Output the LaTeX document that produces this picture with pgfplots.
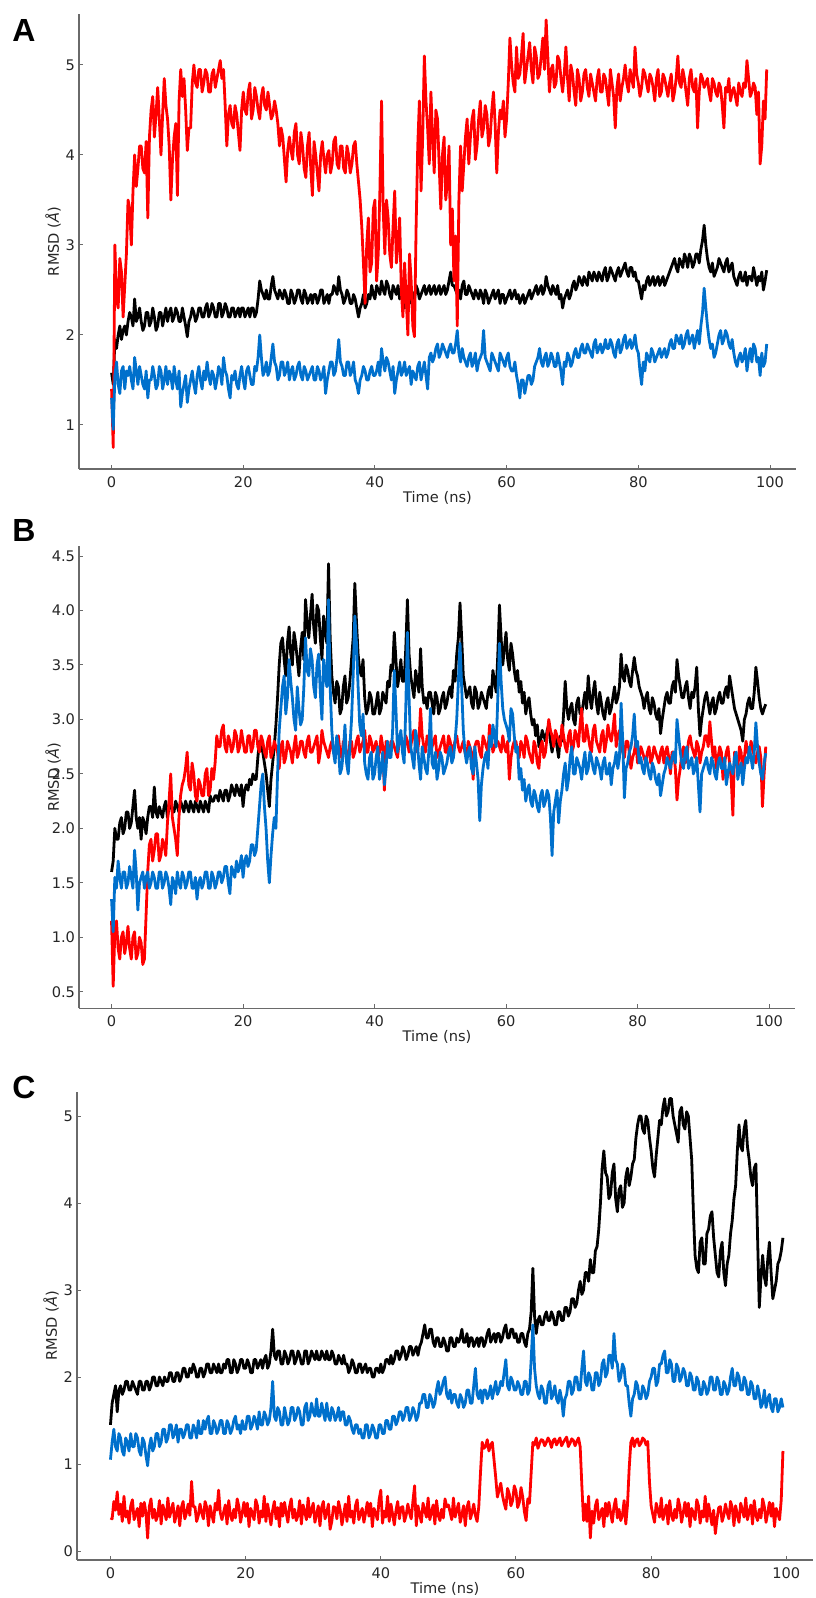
\documentclass[border=0pt]{standalone}
\usepackage{fontspec}
\setmainfont{DejaVu Sans}
\newfontfamily\letterfont{Liberation Sans}
\usepackage{pgfplots}
\usepackage{pgfplotstable}
\pgfplotsset{compat=1.18}

\definecolor{rmsdred}{HTML}{FF0000}
\definecolor{rmsdblue}{HTML}{0070CC}
\definecolor{axisgray}{HTML}{6A6A6A}
\definecolor{textgray}{HTML}{262626}

% panel A: time (ns), black, red, blue
\pgfplotstableread{
t k r b
0 1.58 1.40 1.30
0.25 1.45 0.75 0.95
0.5 1.95 3.00 1.55
0.75 1.85 2.40 1.70
1.0 2.00 2.30 1.45
1.25 2.10 2.85 1.35
1.5 1.95 2.70 1.60
1.75 2.05 2.20 1.65
2.0 2.10 2.55 1.40
2.25 2.00 2.90 1.60
2.5 2.15 3.50 1.55
2.75 2.25 3.40 1.65
3.0 2.20 3.00 1.50
3.25 2.10 3.60 1.40
3.5 2.40 4.00 1.75
3.75 2.15 3.65 1.60
4.0 2.20 3.85 1.45
4.25 2.30 4.10 1.65
4.5 2.15 4.10 1.55
4.75 2.05 3.85 1.45
5.0 2.10 3.80 1.40
5.25 2.25 4.15 1.60
5.5 2.25 3.30 1.30
5.75 2.10 4.20 1.50
6.0 2.15 4.50 1.50
6.25 2.30 4.65 1.65
6.5 2.20 4.20 1.55
6.75 2.05 4.45 1.40
7.0 2.10 4.75 1.45
7.25 2.25 4.40 1.65
7.5 2.25 4.00 1.60
7.75 2.10 4.45 1.40
8.0 2.20 4.85 1.50
8.25 2.30 4.55 1.65
8.5 2.15 4.40 1.45
8.75 2.25 4.10 1.60
9.0 2.30 3.50 1.55
9.25 2.15 3.95 1.40
9.5 2.20 4.20 1.65
9.75 2.30 4.35 1.50
10.0 2.25 3.55 1.40
10.25 2.15 4.60 1.60
10.5 2.15 4.95 1.20
10.75 2.30 4.65 1.35
11.0 2.20 4.85 1.45
11.25 2.10 4.50 1.55
11.5 1.98 4.05 1.25
11.75 2.15 4.30 1.40
12.0 2.20 4.30 1.50
12.25 2.30 4.80 1.60
12.5 2.25 5.00 1.45
12.75 2.15 4.80 1.35
13.0 2.20 4.75 1.55
13.25 2.30 4.95 1.65
13.5 2.30 4.95 1.50
13.75 2.20 4.70 1.40
14.0 2.20 4.80 1.60
14.25 2.30 4.95 1.50
14.5 2.35 4.90 1.70
14.75 2.20 4.70 1.55
15.0 2.25 4.70 1.45
15.25 2.35 4.90 1.60
15.5 2.30 4.95 1.55
15.75 2.20 4.75 1.40
16.0 2.20 4.85 1.50
16.25 2.35 4.95 1.65
16.5 2.35 5.05 1.60
16.75 2.20 4.85 1.45
17.0 2.25 4.95 1.75
17.25 2.35 4.55 1.60
17.5 2.30 4.10 1.55
17.75 2.20 4.45 1.40
18.0 2.20 4.55 1.30
18.25 2.30 4.35 1.55
18.5 2.30 4.30 1.50
18.75 2.20 4.55 1.60
19.0 2.25 4.45 1.45
19.25 2.30 4.25 1.40
19.5 2.20 4.05 1.55
19.75 2.30 4.50 1.65
20.0 2.30 4.70 1.50
20.25 2.20 4.50 1.40
20.5 2.25 4.45 1.60
20.75 2.30 4.70 1.65
21.0 2.20 4.80 1.55
21.25 2.30 4.40 1.45
21.5 2.30 4.50 1.45
21.75 2.20 4.75 1.65
22.0 2.25 4.65 1.60
22.25 2.40 4.50 1.75
22.5 2.60 4.40 2.00
22.75 2.50 4.65 1.75
23.0 2.45 4.75 1.55
23.25 2.40 4.55 1.60
23.5 2.50 4.50 1.70
23.75 2.40 4.70 1.55
24.0 2.40 4.55 1.60
24.25 2.55 4.40 1.75
24.5 2.65 4.45 1.90
24.75 2.50 4.60 1.70
25.0 2.45 4.50 1.65
25.25 2.40 4.35 1.50
25.5 2.50 4.10 1.55
25.75 2.45 4.30 1.70
26.0 2.40 4.20 1.70
26.25 2.50 3.95 1.55
26.5 2.45 3.70 1.60
26.75 2.35 4.05 1.70
27.0 2.35 4.20 1.50
27.25 2.50 4.05 1.60
27.5 2.45 3.95 1.65
27.75 2.35 4.25 1.50
28.0 2.40 4.35 1.55
28.25 2.50 4.00 1.65
28.5 2.50 3.90 1.70
28.75 2.40 4.25 1.55
29.0 2.35 4.10 1.50
29.25 2.50 3.85 1.65
29.5 2.45 3.75 1.60
29.75 2.35 4.10 1.50
30.0 2.40 4.25 1.55
30.25 2.45 3.85 1.60
30.5 2.35 3.55 1.65
30.75 2.45 4.15 1.50
31.0 2.45 4.00 1.50
31.25 2.35 3.80 1.65
31.5 2.40 3.60 1.60
31.75 2.50 4.00 1.50
32.0 2.50 4.15 1.55
32.25 2.35 3.95 1.65
32.5 2.40 3.80 1.35
32.75 2.45 4.00 1.50
33.0 2.35 4.05 1.60
33.25 2.45 3.80 1.70
33.5 2.45 3.90 1.70
33.75 2.55 4.15 1.55
34.0 2.50 4.20 1.60
34.25 2.45 3.90 1.75
34.5 2.65 3.85 1.95
34.75 2.50 4.10 1.70
35.0 2.45 4.10 1.65
35.25 2.35 3.85 1.55
35.5 2.40 3.80 1.55
35.75 2.50 4.10 1.70
36.0 2.45 4.00 1.70
36.25 2.35 3.80 1.55
36.5 2.35 3.90 1.60
36.75 2.45 4.10 1.70
37.0 2.40 4.15 1.50
37.25 2.30 3.90 1.45
37.5 2.20 3.70 1.35
37.75 2.30 3.50 1.50
38.0 2.35 3.20 1.55
38.25 2.45 2.80 1.65
38.5 2.30 2.35 1.60
38.75 2.35 3.00 1.50
39.0 2.45 3.30 1.50
39.25 2.40 2.70 1.60
39.5 2.55 2.80 1.65
39.75 2.45 3.40 1.55
40.0 2.40 3.50 1.55
40.25 2.55 2.60 1.60
40.5 2.50 2.90 1.70
40.75 2.45 3.60 1.55
41.0 2.60 4.60 1.85
41.25 2.50 3.40 1.70
41.5 2.45 2.90 1.60
41.75 2.60 3.50 1.75
42.0 2.55 3.30 1.70
42.25 2.45 2.90 1.60
42.5 2.40 2.75 1.50
42.75 2.55 3.20 1.65
43.0 2.50 3.60 1.35
43.25 2.45 2.80 1.50
43.5 2.55 3.00 1.60
43.75 2.40 3.30 1.70
44.0 2.45 2.50 1.55
44.25 2.55 2.20 1.60
44.5 2.30 2.80 1.70
44.75 2.45 2.40 1.55
45.0 2.40 2.00 1.60
45.25 2.35 2.90 1.65
45.5 2.50 2.60 1.45
45.75 2.45 2.10 1.60
46.0 2.40 1.98 1.55
46.25 2.55 3.20 1.50
46.5 2.50 4.10 1.65
46.75 2.40 4.60 1.70
47.0 2.45 3.60 1.50
47.25 2.50 4.20 1.60
47.5 2.55 5.10 1.70
47.75 2.45 4.60 1.55
48.0 2.50 4.30 1.40
48.25 2.55 3.90 1.75
48.5 2.45 4.70 1.80
48.75 2.50 4.20 1.70
49.0 2.55 3.80 1.75
49.25 2.45 4.50 1.85
49.5 2.50 4.40 1.90
49.75 2.55 3.90 1.75
50.0 2.45 3.40 1.80
50.25 2.50 4.00 1.90
50.5 2.55 4.20 1.85
50.75 2.45 3.50 1.80
51.0 2.50 3.70 1.75
51.25 2.60 4.10 1.85
51.5 2.70 3.00 1.90
51.75 2.55 3.40 1.80
52.0 2.55 2.60 1.80
52.25 2.50 3.10 1.90
52.5 2.45 2.10 2.05
52.75 2.50 3.50 1.80
53.0 2.40 4.10 1.70
53.25 2.55 3.60 1.85
53.5 2.60 3.90 1.75
53.75 2.45 4.20 1.70
54.0 2.45 4.40 1.65
54.25 2.55 3.90 1.75
54.5 2.50 4.20 1.80
54.75 2.45 4.40 1.65
55.0 2.40 4.50 1.70
55.25 2.50 3.95 1.80
55.5 2.45 4.10 1.60
55.75 2.40 4.40 1.70
56.0 2.50 4.60 1.75
56.25 2.45 4.20 1.80
56.5 2.35 4.30 2.05
56.75 2.50 4.55 1.75
57.0 2.45 4.45 1.70
57.25 2.35 4.10 1.65
57.5 2.40 4.20 1.60
57.75 2.45 4.50 1.80
58.0 2.50 4.70 1.75
58.25 2.40 4.35 1.70
58.5 2.45 3.80 1.65
58.75 2.50 4.25 1.60
59.0 2.35 4.50 1.80
59.25 2.45 4.40 1.75
59.5 2.45 4.60 1.70
59.75 2.35 4.20 1.65
60.0 2.40 4.40 1.75
60.25 2.45 4.80 1.80
60.5 2.50 5.30 1.65
60.75 2.40 5.00 1.60
61.0 2.45 4.80 1.60
61.25 2.50 4.70 1.70
61.5 2.40 5.20 1.55
61.75 2.45 4.85 1.45
62.0 2.35 4.90 1.30
62.25 2.40 5.10 1.50
62.5 2.45 5.35 1.50
62.75 2.35 4.80 1.35
63.0 2.40 4.95 1.45
63.25 2.45 5.10 1.55
63.5 2.50 5.25 1.55
63.75 2.40 4.95 1.45
64.0 2.45 4.80 1.50
64.25 2.50 5.20 1.65
64.5 2.55 5.10 1.70
64.75 2.45 4.85 1.75
65.0 2.50 4.90 1.85
65.25 2.55 5.10 1.70
65.5 2.45 5.30 1.65
65.75 2.50 4.95 1.75
66.0 2.65 5.50 1.80
66.25 2.55 5.10 1.65
66.5 2.50 4.70 1.70
66.75 2.45 4.95 1.80
67.0 2.55 5.00 1.75
67.25 2.50 4.75 1.65
67.5 2.45 4.80 1.65
67.75 2.55 5.10 1.80
68.0 2.40 5.05 1.70
68.25 2.45 4.85 1.60
68.5 2.30 4.70 1.45
68.75 2.40 4.90 1.70
69.0 2.45 5.20 1.65
69.25 2.50 4.85 1.80
69.5 2.40 4.60 1.75
69.75 2.45 5.00 1.65
70.0 2.55 4.90 1.70
70.25 2.60 4.70 1.80
70.5 2.50 4.55 1.85
70.75 2.55 4.95 1.75
71.0 2.65 4.85 1.75
71.25 2.60 4.60 1.85
71.5 2.55 4.70 1.90
71.75 2.65 4.90 1.80
72.0 2.60 4.95 1.80
72.25 2.55 4.75 1.90
72.5 2.70 4.65 1.85
72.75 2.65 4.90 1.80
73.0 2.60 4.80 1.75
73.25 2.70 4.70 1.90
73.5 2.65 4.60 1.95
73.75 2.60 4.85 1.80
74.0 2.70 4.95 1.85
74.25 2.65 4.70 1.90
74.5 2.60 4.70 1.80
74.75 2.70 4.90 1.85
75.0 2.75 4.85 1.95
75.25 2.60 4.70 1.85
75.5 2.65 4.55 1.85
75.75 2.75 4.95 1.95
76.0 2.70 4.80 1.90
76.25 2.65 4.65 1.80
76.5 2.60 4.30 1.75
76.75 2.70 4.75 1.90
77.0 2.75 4.90 1.95
77.25 2.65 4.60 1.80
77.5 2.70 4.75 1.85
77.75 2.75 4.85 1.95
78.0 2.80 5.00 2.00
78.25 2.70 4.80 1.85
78.5 2.65 4.70 1.90
78.75 2.75 4.95 1.95
79.0 2.75 4.85 1.85
79.25 2.65 4.75 1.90
79.5 2.70 5.20 2.00
79.75 2.60 4.90 1.85
80.0 2.60 4.80 1.80
80.25 2.50 4.65 1.60
80.5 2.40 4.75 1.45
80.75 2.55 4.95 1.70
81.0 2.50 4.90 1.60
81.25 2.60 4.80 1.80
81.5 2.65 4.70 1.75
81.75 2.55 4.90 1.70
82.0 2.60 4.85 1.85
82.25 2.65 4.75 1.80
82.5 2.55 4.60 1.70
82.75 2.60 4.85 1.75
83.0 2.65 4.95 1.80
83.25 2.55 4.65 1.85
83.5 2.60 4.70 1.75
83.75 2.65 4.90 1.80
84.0 2.55 4.85 1.85
84.25 2.60 4.75 1.75
84.5 2.65 4.65 1.80
84.75 2.70 4.80 1.90
85.0 2.75 4.90 1.95
85.25 2.80 4.60 1.85
85.5 2.85 4.70 1.85
85.75 2.75 4.85 2.00
86.0 2.70 5.10 1.95
86.25 2.85 4.80 1.90
86.5 2.80 4.75 2.00
86.75 2.75 4.95 1.85
87.0 2.90 4.85 1.90
87.25 2.85 4.70 2.00
87.5 2.75 4.55 2.05
87.75 2.90 4.85 1.90
88.0 2.85 4.95 1.95
88.25 2.75 4.75 2.00
88.5 2.80 4.70 1.85
88.75 2.90 4.85 1.95
89.0 2.90 4.30 2.05
89.25 2.80 4.70 1.90
89.5 2.95 4.90 2.10
89.75 3.05 4.85 2.25
90.0 3.22 4.75 2.52
90.25 3.00 4.80 2.30
90.5 2.85 4.85 2.10
90.75 2.75 4.70 1.95
91.0 2.70 4.60 1.85
91.25 2.80 4.85 1.90
91.5 2.65 4.80 1.75
91.75 2.70 4.70 1.80
92.0 2.75 4.65 1.90
92.25 2.85 4.80 2.00
92.5 2.80 4.75 2.05
92.75 2.75 4.55 1.90
93.0 2.70 4.30 1.95
93.25 2.80 4.75 2.05
93.5 2.85 4.70 2.00
93.75 2.70 4.85 1.90
94.0 2.75 4.60 1.85
94.25 2.80 4.70 1.95
94.5 2.65 4.75 1.80
94.75 2.60 4.65 1.70
95.0 2.55 4.55 1.65
95.25 2.65 4.80 1.75
95.5 2.70 4.70 1.80
95.75 2.60 4.65 1.70
96.0 2.60 4.80 1.75
96.25 2.70 4.75 1.85
96.5 2.55 5.05 1.60
96.75 2.65 4.85 1.75
97.0 2.65 4.65 1.85
97.25 2.60 4.70 1.70
97.5 2.75 4.80 1.90
97.75 2.65 4.75 1.85
98.0 2.55 4.45 1.70
98.25 2.65 4.70 1.75
98.5 2.60 3.90 1.55
98.75 2.70 4.10 1.80
99.0 2.50 4.60 1.65
99.25 2.60 4.40 1.70
99.5 2.72 4.95 1.90
}\tabA

% panel B
\pgfplotstableread{
t k r b
0 1.60 1.15 1.35
0.25 1.70 0.55 1.05
0.5 2.00 1.05 1.55
0.75 1.90 1.15 1.45
1.0 1.90 0.90 1.70
1.25 2.05 0.80 1.55
1.5 2.10 1.00 1.45
1.75 1.95 1.05 1.60
2.0 2.00 0.85 1.60
2.25 2.15 0.95 1.45
2.5 2.15 1.10 1.50
2.75 2.00 0.90 1.65
3.0 2.05 0.80 1.55
3.25 2.20 1.00 1.45
3.5 2.35 1.05 1.80
3.75 2.10 0.80 1.60
4.0 2.00 0.85 1.25
4.25 2.10 1.00 1.50
4.5 1.90 0.95 1.55
4.75 2.10 0.75 1.60
5.0 2.05 0.80 1.45
5.25 1.95 1.20 1.55
5.5 2.10 1.60 1.60
5.75 2.20 1.85 1.45
6.0 2.20 1.90 1.50
6.25 2.10 1.70 1.60
6.5 2.38 1.80 1.55
6.75 2.15 1.95 1.45
7.0 2.10 1.95 1.45
7.25 2.20 1.70 1.60
7.5 2.15 1.75 1.60
7.75 2.10 1.90 1.45
8.0 2.20 1.85 1.50
8.25 2.25 1.75 1.60
8.5 2.10 2.05 1.55
8.75 2.20 2.25 1.45
9.0 2.25 2.50 1.30
9.25 2.15 2.10 1.55
9.5 2.15 2.00 1.50
9.75 2.25 1.90 1.40
10.0 2.20 1.75 1.60
10.25 2.15 2.10 1.50
10.5 2.25 2.30 1.45
10.75 2.20 2.40 1.60
11.0 2.15 2.45 1.55
11.25 2.25 2.55 1.45
11.5 2.20 2.70 1.50
11.75 2.15 2.40 1.60
12.0 2.25 2.35 1.60
12.25 2.20 2.60 1.45
12.5 2.15 2.50 1.45
12.75 2.25 2.30 1.55
13.0 2.20 2.25 1.35
13.25 2.15 2.45 1.50
13.5 2.25 2.40 1.55
13.75 2.20 2.30 1.45
14.0 2.15 2.30 1.50
14.25 2.25 2.50 1.60
14.5 2.20 2.55 1.60
14.75 2.15 2.30 1.45
15.0 2.30 2.35 1.45
15.25 2.25 2.55 1.60
15.5 2.25 2.45 1.55
15.75 2.30 2.60 1.45
16.0 2.30 2.85 1.50
16.25 2.25 2.75 1.60
16.5 2.35 2.75 1.60
16.75 2.30 2.90 1.50
17.0 2.25 2.95 1.55
17.25 2.35 2.75 1.65
17.5 2.35 2.70 1.65
17.75 2.25 2.85 1.50
18.0 2.30 2.80 1.40
18.25 2.40 2.70 1.65
18.5 2.35 2.75 1.60
18.75 2.30 2.90 1.55
19.0 2.40 2.85 1.70
19.25 2.35 2.70 1.60
19.5 2.30 2.75 1.65
19.75 2.40 2.90 1.75
20.0 2.20 2.80 1.55
20.25 2.35 2.70 1.70
20.5 2.40 2.70 1.75
20.75 2.35 2.85 1.65
21.0 2.45 2.85 1.70
21.25 2.40 2.70 1.85
21.5 2.50 2.75 1.85
21.75 2.45 2.90 1.75
22.0 2.45 2.90 1.80
22.25 2.65 2.75 2.00
22.5 2.80 2.70 2.20
22.75 2.75 2.85 2.40
23.0 2.70 2.80 2.50
23.25 2.60 2.70 2.20
23.5 2.50 2.65 2.00
23.75 2.35 2.80 1.70
24.0 2.20 2.85 1.50
24.25 2.45 2.65 1.75
24.5 2.60 2.70 1.95
24.75 2.75 2.80 2.10
25.0 2.95 2.75 2.00
25.25 3.20 2.70 2.50
25.5 3.50 2.55 2.90
25.75 3.70 2.75 3.10
26.0 3.75 2.80 3.30
26.25 3.55 2.60 3.40
26.5 3.40 2.65 3.05
26.75 3.70 2.80 3.20
27.0 3.85 2.75 3.55
27.25 3.60 2.70 3.35
27.5 3.50 2.60 3.20
27.75 3.80 2.75 3.00
28.0 3.70 2.85 2.90
28.25 3.55 2.65 3.30
28.5 3.40 2.70 3.10
28.75 3.65 2.80 2.95
29.0 3.80 2.80 3.00
29.25 3.55 2.70 3.30
29.5 4.10 2.65 3.75
29.75 3.90 2.80 3.45
30.0 3.75 2.85 3.40
30.25 3.95 2.70 3.65
30.5 4.15 2.70 3.55
30.75 3.85 2.75 3.30
31.0 3.70 2.80 3.20
31.25 4.05 2.85 3.50
31.5 4.00 2.60 3.60
31.75 3.75 2.70 3.25
32.0 3.55 2.90 3.00
32.25 3.95 2.80 3.55
32.5 3.80 2.75 3.40
32.75 3.70 2.70 3.30
33.0 4.43 2.65 4.10
33.25 3.75 2.75 3.30
33.5 3.40 2.80 2.90
33.75 3.25 2.70 2.70
34.0 3.15 2.70 2.60
34.25 3.35 2.80 2.85
34.5 3.30 2.85 2.75
34.75 3.05 2.70 2.50
35.0 3.10 2.65 2.55
35.25 3.30 2.80 2.70
35.5 3.40 2.75 2.95
35.75 3.15 2.70 2.60
36.0 3.20 2.60 2.50
36.25 3.35 2.80 2.75
36.5 3.55 2.80 3.00
36.75 3.75 2.65 3.40
37.0 4.25 2.70 3.95
37.25 3.90 2.80 3.70
37.5 3.60 2.85 3.30
37.75 3.45 2.70 2.95
38.0 3.40 2.75 2.85
38.25 3.55 2.80 3.05
38.5 3.20 2.90 2.60
38.75 3.05 2.70 2.50
39.0 3.10 2.70 2.45
39.25 3.25 2.85 2.65
39.5 3.20 2.80 2.70
39.75 3.05 2.70 2.45
40.0 3.05 2.75 2.50
40.25 3.15 2.80 2.65
40.5 3.25 2.65 2.75
40.75 3.05 2.70 2.45
41.0 3.10 2.85 2.55
41.25 3.25 2.75 2.70
41.5 3.20 2.35 2.40
41.75 3.15 2.80 2.55
42.0 3.35 2.70 2.80
42.25 3.30 2.65 2.65
42.5 3.50 2.80 2.65
42.75 3.45 2.80 2.90
43.0 3.80 2.75 3.45
43.25 3.55 2.70 3.10
43.5 3.30 2.65 2.70
43.75 3.40 2.80 2.80
44.0 3.55 2.85 2.90
44.25 3.35 2.75 2.70
44.5 3.35 2.70 2.60
44.75 3.65 2.85 3.10
45.0 4.10 2.80 3.80
45.25 3.60 2.70 3.20
45.5 3.40 2.75 2.75
45.75 3.30 2.85 2.65
46.0 3.20 2.90 2.55
46.25 3.45 2.75 2.90
46.5 3.35 2.70 2.80
46.75 3.25 2.80 2.60
47.0 3.65 3.10 2.45
47.25 3.30 2.85 2.75
47.5 3.15 2.75 2.65
47.75 3.20 2.70 2.55
48.0 3.10 2.85 2.50
48.25 3.25 2.80 2.70
48.5 3.25 2.70 3.10
48.75 3.15 2.75 2.60
49.0 3.05 2.80 2.55
49.25 3.25 2.85 2.70
49.5 3.20 2.65 2.45
49.75 3.05 2.70 2.55
50.0 3.10 2.75 2.70
50.25 3.20 2.80 2.65
50.5 3.25 2.85 2.50
50.75 3.10 2.70 2.55
51.0 3.15 2.70 2.60
51.25 3.25 2.85 2.70
51.5 3.30 2.80 2.75
51.75 3.20 2.70 2.60
52.0 3.45 2.75 2.65
52.25 3.35 2.80 2.80
52.5 3.60 2.85 3.00
52.75 3.75 2.75 3.35
53.0 4.07 2.70 3.70
53.25 3.75 2.75 3.30
53.5 3.40 2.80 2.90
53.75 3.30 2.70 2.70
54.0 3.20 2.65 2.60
54.25 3.25 2.80 2.70
54.5 3.30 2.75 2.75
54.75 3.15 2.70 2.55
55.0 3.10 2.45 2.50
55.25 3.30 2.75 2.75
55.5 3.25 2.80 2.60
55.75 3.10 2.80 2.45
56.0 3.15 2.70 2.07
56.25 3.25 2.65 2.40
56.5 3.20 2.85 2.55
56.75 3.15 2.80 2.65
57.0 3.10 2.75 2.70
57.25 3.25 2.70 2.55
57.5 3.30 2.95 2.85
57.75 3.20 2.85 2.75
58.0 3.45 2.70 2.95
58.25 3.35 2.75 2.85
58.5 3.25 2.80 2.75
58.75 3.60 2.80 3.20
59.0 4.05 2.75 3.70
59.25 3.75 2.70 3.35
59.5 3.50 2.85 3.10
59.75 3.65 2.75 3.00
60.0 3.80 2.70 2.95
60.25 3.55 2.80 2.90
60.5 3.45 2.45 2.80
60.75 3.70 2.65 3.10
61.0 3.60 2.75 3.05
61.25 3.45 2.80 2.85
61.5 3.35 2.80 2.70
61.75 3.45 2.70 2.75
62.0 3.25 2.65 2.45
62.25 3.35 2.80 2.55
62.5 3.15 2.75 2.35
62.75 3.25 2.65 2.45
63.0 3.05 2.85 2.25
63.25 3.15 2.80 2.35
63.5 3.20 2.70 2.40
63.75 3.05 2.65 2.25
64.0 2.95 2.60 2.20
64.25 3.00 2.80 2.35
64.5 2.85 2.75 2.30
64.75 2.95 2.60 2.20
65.0 2.75 2.55 2.15
65.25 2.80 2.75 2.30
65.5 2.90 2.80 2.35
65.75 2.85 2.65 2.20
66.0 2.80 2.70 2.25
66.25 2.90 2.85 2.35
66.5 2.95 3.00 2.30
66.75 2.80 2.90 2.10
67.0 2.70 2.85 1.75
67.25 2.80 2.75 2.15
67.5 2.85 2.90 2.25
67.75 2.75 2.85 2.35
68.0 2.65 2.80 2.05
68.25 2.85 2.75 2.25
68.5 2.80 2.95 2.35
68.75 3.05 2.85 2.50
69.0 3.35 2.75 2.60
69.25 3.10 2.70 2.35
69.5 3.00 2.85 2.45
69.75 3.10 2.90 2.65
70.0 3.15 2.70 2.75
70.25 3.00 2.75 2.50
70.5 2.95 2.90 2.50
70.75 3.15 2.85 2.65
71.0 3.20 2.75 2.60
71.25 3.05 2.95 2.55
71.5 3.05 3.10 2.45
71.75 3.15 2.80 2.60
72.0 3.25 2.80 2.70
72.25 3.10 2.95 2.50
72.5 3.40 2.85 2.55
72.75 3.20 2.75 2.70
73.0 3.10 2.70 2.65
73.25 3.25 2.90 2.55
73.5 3.35 2.95 2.50
73.75 3.15 2.80 2.65
74.0 3.05 2.75 2.60
74.25 3.25 2.70 2.55
74.5 3.15 2.85 2.45
74.75 3.05 2.90 2.60
75.0 3.00 2.70 2.65
75.25 3.15 2.80 2.50
75.5 3.20 2.95 2.50
75.75 3.05 2.85 2.60
76.0 3.10 2.80 2.40
76.25 3.20 2.90 2.55
76.5 3.30 3.05 2.60
76.75 3.15 2.75 2.70
77.0 3.20 2.85 2.55
77.25 3.30 2.90 2.65
77.5 3.60 2.75 3.15
77.75 3.40 2.70 2.80
78.0 3.35 2.65 2.28
78.25 3.50 2.80 2.55
78.5 3.45 2.80 2.60
78.75 3.35 2.70 2.70
79.0 3.30 2.55 2.75
79.25 3.45 2.65 2.85
79.5 3.57 2.70 3.05
79.75 3.45 2.80 2.75
80.0 3.40 2.60 2.80
80.25 3.30 2.65 2.60
80.5 3.25 2.75 2.65
80.75 3.20 2.70 2.55
81.0 3.10 2.65 2.50
81.25 3.20 2.60 2.65
81.5 3.25 2.70 2.60
81.75 3.10 2.75 2.50
82.0 3.05 2.60 2.45
82.25 3.20 2.65 2.60
82.5 3.15 2.75 2.55
82.75 3.05 2.70 2.45
83.0 3.00 2.65 2.40
83.25 3.10 2.60 2.50
83.5 2.87 2.70 2.30
83.75 3.00 2.75 2.40
84.0 3.10 2.60 2.50
84.25 3.20 2.70 2.55
84.5 3.25 2.75 2.65
84.75 3.15 2.65 2.60
85.0 3.15 2.50 2.55
85.25 3.30 2.70 2.65
85.5 3.35 2.70 2.70
85.75 3.25 2.55 2.60
86.0 3.55 2.26 3.00
86.25 3.40 2.45 2.85
86.5 3.30 2.55 2.70
86.75 3.20 2.70 2.60
87.0 3.20 2.75 2.55
87.25 3.30 2.60 2.70
87.5 3.35 2.65 2.75
87.75 3.20 2.80 2.55
88.0 3.10 2.85 2.60
88.25 3.25 2.75 2.65
88.5 3.20 2.70 2.50
88.75 3.30 2.65 2.55
89.0 3.48 2.80 2.65
89.25 3.10 2.75 2.40
89.5 2.85 2.60 2.15
89.75 3.00 2.70 2.50
90.0 3.10 2.75 2.55
90.25 3.20 2.85 2.60
90.5 3.25 2.85 2.65
90.75 3.15 2.75 2.55
91.0 3.05 2.98 2.50
91.25 3.15 2.80 2.65
91.5 3.20 2.65 2.60
91.75 3.05 2.75 2.50
92.0 3.10 2.55 2.45
92.25 3.20 2.65 2.60
92.5 3.25 2.75 2.65
92.75 3.15 2.70 2.55
93.0 3.15 2.45 2.55
93.25 3.25 2.60 2.65
93.5 3.30 2.70 2.40
93.75 3.20 2.75 2.50
94.0 3.40 2.60 2.60
94.25 3.30 2.45 2.55
94.5 3.20 2.12 2.50
94.75 3.10 2.70 2.65
95.0 3.05 2.65 2.70
95.25 3.00 2.55 2.45
95.5 2.95 2.75 2.55
95.75 2.90 2.70 2.60
96.0 2.80 2.50 2.40
96.25 3.00 2.65 2.55
96.5 3.05 2.80 2.65
96.75 3.15 2.70 2.60
97.0 3.20 2.65 2.75
97.25 3.10 2.80 2.65
97.5 3.10 2.75 2.55
97.75 3.25 2.65 2.70
98.0 3.48 2.60 2.97
98.25 3.35 2.70 2.75
98.5 3.20 2.75 2.60
98.75 3.10 2.65 2.50
99.0 3.05 2.20 2.45
99.25 3.10 2.50 2.60
99.5 3.14 2.75 2.69
}\tabB

% panel C: black and blue
\pgfplotstableread{
t k b
0 1.45 1.05
0.25 1.70 1.25
0.5 1.80 1.40
0.75 1.90 1.20
1.0 1.60 1.15
1.25 1.85 1.35
1.5 1.90 1.30
1.75 1.80 1.15
2.0 1.85 1.10
2.25 1.95 1.30
2.5 1.95 1.25
2.75 1.85 1.15
3.0 1.85 1.35
3.25 1.95 1.20
3.5 1.90 1.20
3.75 1.85 1.35
4.0 1.80 1.30
4.25 1.95 1.15
4.5 1.95 1.10
4.75 1.85 1.30
5.0 1.85 1.25
5.25 1.95 1.10
5.5 1.95 0.98
5.75 1.85 1.20
6.0 1.90 1.30
6.25 2.00 1.15
6.5 2.00 1.20
6.75 1.90 1.35
7.0 1.90 1.35
7.25 2.00 1.20
7.5 1.95 1.25
7.75 1.90 1.40
8.0 2.00 1.40
8.25 1.95 1.25
8.5 1.95 1.30
8.75 2.05 1.45
9.0 2.05 1.45
9.25 1.95 1.30
9.5 1.95 1.35
9.75 2.05 1.45
10.0 2.05 1.25
10.25 1.95 1.40
10.5 2.00 1.40
10.75 2.10 1.30
11.0 2.10 1.35
11.25 2.00 1.45
11.5 2.00 1.45
11.75 2.10 1.30
12.0 2.05 1.30
12.25 2.15 1.45
12.5 2.10 1.40
12.75 2.00 1.30
13.0 2.00 1.50
13.25 2.10 1.35
13.5 2.10 1.35
13.75 2.00 1.50
14.0 2.05 1.40
14.25 2.15 1.50
14.5 2.15 1.55
14.75 2.05 1.35
15.0 2.05 1.35
15.25 2.15 1.50
15.5 2.10 1.45
15.75 2.05 1.35
16.0 2.15 1.40
16.25 2.05 1.50
16.5 2.05 1.50
16.75 2.15 1.35
17.0 2.10 1.35
17.25 2.20 1.50
17.5 2.20 1.45
17.75 2.05 1.35
18.0 2.05 1.40
18.25 2.20 1.50
18.5 2.15 1.55
18.75 2.05 1.40
19.0 2.10 1.45
19.25 2.20 1.35
19.5 2.20 1.50
19.75 2.10 1.40
20.0 2.10 1.40
20.25 2.20 1.55
20.5 2.15 1.55
20.75 2.05 1.40
21.0 2.05 1.45
21.25 2.20 1.55
21.5 2.20 1.50
21.75 2.10 1.40
22.0 2.15 1.60
22.25 2.20 1.45
22.5 2.10 1.45
22.75 2.20 1.60
23.0 2.25 1.55
23.25 2.10 1.45
23.5 2.15 1.50
23.75 2.30 1.65
24.0 2.55 1.95
24.25 2.25 1.55
24.5 2.20 1.50
24.75 2.30 1.65
25.0 2.30 1.60
25.25 2.15 1.45
25.5 2.15 1.45
25.75 2.30 1.65
26.0 2.25 1.55
26.25 2.15 1.45
26.5 2.20 1.50
26.75 2.30 1.65
27.0 2.30 1.65
27.25 2.15 1.50
27.5 2.20 1.55
27.75 2.30 1.65
28.0 2.25 1.60
28.25 2.15 1.45
28.5 2.15 1.45
28.75 2.30 1.65
29.0 2.30 1.70
29.25 2.15 1.50
29.5 2.20 1.55
29.75 2.30 1.70
30.0 2.25 1.60
30.25 2.20 1.55
30.5 2.30 1.75
30.75 2.20 1.55
31.0 2.20 1.55
31.25 2.30 1.70
31.5 2.25 1.60
31.75 2.20 1.50
32.0 2.30 1.70
32.25 2.20 1.55
32.5 2.20 1.50
32.75 2.30 1.65
33.0 2.25 1.60
33.25 2.15 1.50
33.5 2.15 1.55
33.75 2.25 1.65
34.0 2.20 1.50
34.25 2.15 1.60
34.5 2.25 1.60
34.75 2.15 1.45
35.0 2.15 1.45
35.25 2.05 1.55
35.5 2.10 1.50
35.75 2.20 1.40
36.0 2.15 1.35
36.25 2.05 1.45
36.5 2.05 1.45
36.75 2.15 1.35
37.0 2.15 1.40
37.25 2.05 1.30
37.5 2.10 1.30
37.75 2.15 1.45
38.0 2.05 1.45
38.25 2.10 1.30
38.5 2.10 1.35
38.75 2.00 1.45
39.0 2.00 1.40
39.25 2.10 1.30
39.5 2.10 1.30
39.75 2.05 1.45
40.0 2.15 1.45
40.25 2.05 1.35
40.5 2.10 1.35
40.75 2.20 1.50
41.0 2.20 1.50
41.25 2.15 1.40
41.5 2.25 1.40
41.75 2.15 1.55
42.0 2.20 1.55
42.25 2.30 1.45
42.5 2.30 1.50
42.75 2.20 1.60
43.0 2.25 1.60
43.25 2.35 1.50
43.5 2.30 1.55
43.75 2.20 1.65
44.0 2.25 1.65
44.25 2.35 1.50
44.5 2.35 1.55
44.75 2.25 1.65
45.0 2.30 1.60
45.25 2.35 1.50
45.5 2.25 1.55
45.75 2.35 1.70
46.0 2.40 1.70
46.25 2.50 1.80
46.5 2.60 1.80
46.75 2.45 1.65
47.0 2.45 1.65
47.25 2.55 1.80
47.5 2.55 1.75
47.75 2.40 1.65
48.0 2.35 1.70
48.25 2.45 1.85
48.5 2.45 1.95
48.75 2.35 1.80
49.0 2.35 1.85
49.25 2.45 1.95
49.5 2.40 2.00
49.75 2.30 1.80
50.0 2.30 1.75
50.25 2.45 1.85
50.5 2.45 1.70
50.75 2.35 1.80
51.0 2.35 1.80
51.25 2.45 1.70
51.5 2.40 1.65
51.75 2.45 1.80
52.0 2.55 1.75
52.25 2.40 1.65
52.5 2.40 1.70
52.75 2.50 1.85
53.0 2.35 1.85
53.25 2.45 1.70
53.5 2.45 1.70
53.75 2.35 1.90
54.0 2.40 2.10
54.25 2.45 1.80
54.5 2.35 1.75
54.75 2.45 1.85
55.0 2.45 1.70
55.25 2.35 1.85
55.5 2.40 1.85
55.75 2.50 1.75
56.0 2.55 1.80
56.25 2.40 1.90
56.5 2.45 1.75
56.75 2.50 1.85
57.0 2.40 1.95
57.25 2.50 1.80
57.5 2.50 1.85
57.75 2.40 1.95
58.0 2.45 1.90
58.25 2.55 2.05
58.5 2.60 2.20
58.75 2.45 1.90
59.0 2.45 1.85
59.25 2.55 2.00
59.5 2.55 1.95
59.75 2.45 1.85
60.0 2.50 1.85
60.25 2.40 1.95
60.5 2.40 1.90
60.75 2.50 1.80
61.0 2.50 1.80
61.25 2.40 1.95
61.5 2.35 1.95
61.75 2.50 1.80
62.0 2.55 1.85
62.25 2.75 2.20
62.5 3.25 2.60
62.75 2.70 2.10
63.0 2.50 1.90
63.25 2.65 1.80
63.5 2.70 1.75
63.75 2.60 1.90
64.0 2.60 1.85
64.25 2.70 1.70
64.5 2.75 1.70
64.75 2.65 1.90
65.0 2.65 1.95
65.25 2.75 1.75
65.5 2.70 1.80
65.75 2.60 1.90
66.0 2.60 1.75
66.25 2.75 1.70
66.5 2.75 1.85
66.75 2.65 1.75
67.0 2.65 1.55
67.25 2.80 1.75
67.5 2.80 1.80
67.75 2.70 1.95
68.0 2.75 1.95
68.25 2.90 1.80
68.5 2.90 1.85
68.75 2.80 2.00
69.0 2.85 2.00
69.25 3.00 1.85
69.5 3.10 1.85
69.75 2.95 2.10
70.0 3.00 2.30
70.25 3.20 1.95
70.5 3.20 1.90
70.75 3.10 2.05
71.0 3.35 2.00
71.25 3.20 1.85
71.5 3.20 1.85
71.75 3.45 2.05
72.0 3.50 2.05
72.25 3.70 1.90
72.5 4.00 1.95
72.75 4.40 2.15
73.0 4.60 2.20
73.25 4.35 2.00
73.5 4.30 2.05
73.75 4.05 2.25
74.0 4.10 2.25
74.25 4.35 2.10
74.5 4.45 2.50
74.75 4.05 2.20
75.0 3.90 2.15
75.25 4.15 1.95
75.5 4.20 2.00
75.75 3.95 2.15
76.0 4.00 2.10
76.25 4.30 1.90
76.5 4.40 1.90
76.75 4.20 1.70
77.0 4.30 1.55
77.25 4.45 1.75
77.5 4.50 1.80
77.75 4.75 1.95
78.0 4.90 1.90
78.25 5.00 1.75
78.5 5.00 1.75
78.75 4.85 1.90
79.0 4.80 1.85
79.25 5.00 1.75
79.5 4.95 1.80
79.75 4.75 1.95
80.0 4.60 2.00
80.25 4.40 2.10
80.5 4.30 2.10
80.75 4.55 1.90
81.0 4.75 1.95
81.25 4.95 2.15
81.5 4.90 2.15
81.75 5.10 2.25
82.0 5.20 2.30
82.25 5.00 2.05
82.5 5.05 2.05
82.75 5.20 2.20
83.0 5.20 2.15
83.25 5.00 1.95
83.5 4.90 1.95
83.75 4.80 2.15
84.0 4.70 2.10
84.25 5.05 1.95
84.5 5.10 2.00
84.75 4.90 2.10
85.0 4.85 2.05
85.25 5.05 1.90
85.5 5.00 1.90
85.75 4.75 2.05
86.0 4.50 2.00
86.25 3.90 1.85
86.5 3.40 1.85
86.75 3.25 2.00
87.0 3.20 1.95
87.25 3.55 1.80
87.5 3.60 1.80
87.75 3.30 1.95
88.0 3.30 1.90
88.25 3.65 1.80
88.5 3.70 1.85
88.75 3.85 2.00
89.0 3.90 2.00
89.25 3.60 1.85
89.5 3.40 1.85
89.75 3.20 2.00
90.0 3.15 1.95
90.25 3.45 1.80
90.5 3.55 1.80
90.75 3.20 1.95
91.0 3.05 1.90
91.25 3.30 1.80
91.5 3.40 1.85
91.75 3.65 2.00
92.0 3.80 2.10
92.25 4.05 1.90
92.5 4.20 1.90
92.75 4.60 2.05
93.0 4.90 2.00
93.25 4.65 1.85
93.5 4.60 1.85
93.75 4.85 2.00
94.0 4.95 1.95
94.25 4.65 1.80
94.5 4.50 1.80
94.75 4.30 1.95
95.0 4.20 1.90
95.25 4.40 1.75
95.5 4.45 1.75
95.75 3.60 1.90
96.0 2.80 1.80
96.25 3.15 1.65
96.5 3.40 1.70
96.75 3.15 1.85
97.0 3.05 1.65
97.25 3.35 1.75
97.5 3.55 1.80
97.75 3.20 1.65
98.0 2.90 1.60
98.25 3.00 1.75
98.5 3.10 1.75
98.75 3.30 1.60
99.0 3.35 1.65
99.25 3.45 1.75
99.5 3.60 1.65
}\tabC

% panel C: red
\pgfplotstableread{
t r
0 0.38
0.25 0.37
0.5 0.57
0.75 0.47
1.0 0.68
1.25 0.42
1.5 0.54
1.75 0.34
2.0 0.63
2.25 0.39
2.5 0.46
2.75 0.32
3.0 0.52
3.25 0.59
3.5 0.36
3.75 0.43
4.0 0.49
4.25 0.28
4.5 0.55
4.75 0.40
5.0 0.56
5.25 0.44
5.5 0.15
5.75 0.51
6.0 0.60
6.25 0.38
6.5 0.48
6.75 0.35
7.0 0.41
7.25 0.58
7.5 0.31
7.75 0.53
8.0 0.45
8.25 0.36
8.5 0.61
8.75 0.39
9.0 0.47
9.25 0.55
9.5 0.33
9.75 0.42
10.0 0.52
10.25 0.29
10.5 0.50
10.75 0.57
11.0 0.37
11.25 0.44
11.5 0.54
11.75 0.41
12.0 0.80
12.25 0.51
12.5 0.51
12.75 0.34
13.0 0.41
13.25 0.54
13.5 0.44
13.75 0.37
14.0 0.57
14.25 0.50
14.5 0.29
14.75 0.52
15.0 0.42
15.25 0.33
15.5 0.55
15.75 0.47
16.0 0.70
16.25 0.44
16.5 0.36
16.75 0.45
17.0 0.53
17.25 0.31
17.5 0.58
17.75 0.41
18.0 0.35
18.25 0.48
18.5 0.38
18.75 0.60
19.0 0.51
19.25 0.33
19.5 0.44
19.75 0.56
20.0 0.40
20.25 0.55
20.5 0.28
20.75 0.49
21.0 0.43
21.25 0.36
21.5 0.59
21.75 0.52
22.0 0.32
22.25 0.46
22.5 0.39
22.75 0.63
23.0 0.34
23.25 0.54
23.5 0.42
23.75 0.30
24.0 0.47
24.25 0.57
24.5 0.37
24.75 0.50
25.0 0.28
25.25 0.55
25.5 0.40
25.75 0.56
26.0 0.44
26.25 0.33
26.5 0.51
26.75 0.60
27.0 0.38
27.25 0.48
27.5 0.35
27.75 0.41
28.0 0.58
28.25 0.31
28.5 0.53
28.75 0.45
29.0 0.36
29.25 0.61
29.5 0.39
29.75 0.47
30.0 0.55
30.25 0.33
30.5 0.42
30.75 0.52
31.0 0.29
31.25 0.50
31.5 0.57
31.75 0.37
32.0 0.44
32.25 0.54
32.5 0.25
32.75 0.34
33.0 0.51
33.25 0.50
33.5 0.37
33.75 0.57
34.0 0.47
34.25 0.30
34.5 0.42
34.75 0.54
35.0 0.34
35.25 0.63
35.5 0.39
35.75 0.46
36.0 0.32
36.25 0.52
36.5 0.59
36.75 0.36
37.0 0.43
37.25 0.49
37.5 0.33
37.75 0.44
38.0 0.56
38.25 0.40
38.5 0.55
38.75 0.28
39.0 0.49
39.25 0.43
39.5 0.36
39.75 0.59
40.0 0.70
40.25 0.32
40.5 0.46
40.75 0.39
41.0 0.63
41.25 0.34
41.5 0.54
41.75 0.42
42.0 0.30
42.25 0.47
42.5 0.57
42.75 0.37
43.0 0.50
43.25 0.51
43.5 0.34
43.75 0.41
44.0 0.54
44.25 0.44
44.5 0.37
44.75 0.57
45.0 0.75
45.25 0.29
45.5 0.52
45.75 0.42
46.0 0.33
46.25 0.55
46.5 0.47
46.75 0.39
47.0 0.61
47.25 0.36
47.5 0.45
47.75 0.53
48.0 0.31
48.25 0.58
48.5 0.41
48.75 0.35
49.0 0.48
49.25 0.38
49.5 0.60
49.75 0.51
50.0 0.53
50.25 0.45
50.5 0.36
50.75 0.61
51.0 0.39
51.25 0.47
51.5 0.55
51.75 0.33
52.0 0.42
52.25 0.52
52.5 0.29
52.75 0.50
53.0 0.57
53.25 0.37
53.5 0.44
53.75 0.54
54.0 0.41
54.25 0.34
54.5 0.51
54.75 0.90
55.0 1.25
55.25 1.18
55.5 1.20
55.75 1.28
56.0 1.15
56.25 1.22
56.5 1.25
56.75 1.05
57.0 0.85
57.25 0.62
57.5 0.70
57.75 0.78
58.0 0.64
58.25 0.55
58.5 0.48
58.75 0.72
59.0 0.66
59.25 0.52
59.5 0.58
59.75 0.75
60.0 0.69
60.25 0.50
60.5 0.56
60.75 0.73
61.0 0.62
61.25 0.45
61.5 0.35
61.75 0.60
62.0 0.55
62.25 0.90
62.5 1.25
62.75 1.22
63.0 1.30
63.25 1.18
63.5 1.24
63.75 1.28
64.0 1.27
64.25 1.21
64.5 1.25
64.75 1.30
65.0 1.26
65.25 1.19
65.5 1.27
65.75 1.29
66.0 1.22
66.25 1.26
66.5 1.30
66.75 1.21
67.0 1.25
67.25 1.28
67.5 1.31
67.75 1.20
68.0 1.24
68.25 1.29
68.5 1.27
68.75 1.21
69.0 1.26
69.25 1.30
69.5 1.20
69.75 0.75
70.0 0.35
70.25 0.54
70.5 0.34
70.75 0.63
71.0 0.15
71.25 0.46
71.5 0.32
71.75 0.52
72.0 0.59
72.25 0.36
72.5 0.43
72.75 0.49
73.0 0.28
73.25 0.55
73.5 0.40
73.75 0.56
74.0 0.44
74.25 0.33
74.5 0.51
74.75 0.60
75.0 0.38
75.25 0.48
75.5 0.35
75.75 0.41
76.0 0.58
76.25 0.31
76.5 0.53
76.75 0.95
77.0 1.25
77.25 1.30
77.5 1.20
77.75 1.27
78.0 1.29
78.25 1.21
78.5 1.24
78.75 1.30
79.0 1.28
79.25 1.22
79.5 1.26
79.75 0.80
80.0 0.52
80.25 0.42
80.5 0.33
80.75 0.55
81.0 0.47
81.25 0.39
81.5 0.61
81.75 0.36
82.0 0.45
82.25 0.53
82.5 0.31
82.75 0.58
83.0 0.41
83.25 0.35
83.5 0.48
83.75 0.38
84.0 0.60
84.25 0.51
84.5 0.33
84.75 0.44
85.0 0.56
85.25 0.40
85.5 0.55
85.75 0.28
86.0 0.49
86.25 0.43
86.5 0.36
86.75 0.59
87.0 0.52
87.25 0.32
87.5 0.46
87.75 0.39
88.0 0.63
88.25 0.34
88.5 0.54
88.75 0.42
89.0 0.30
89.25 0.47
89.5 0.20
89.75 0.37
90.0 0.50
90.25 0.51
90.5 0.34
90.75 0.41
91.0 0.54
91.25 0.44
91.5 0.37
91.75 0.57
92.0 0.50
92.25 0.29
92.5 0.52
92.75 0.42
93.0 0.33
93.25 0.55
93.5 0.47
93.75 0.39
94.0 0.61
94.25 0.36
94.5 0.45
94.75 0.53
95.0 0.31
95.25 0.58
95.5 0.41
95.75 0.35
96.0 0.48
96.25 0.38
96.5 0.60
96.75 0.51
97.0 0.33
97.25 0.44
97.5 0.56
97.75 0.40
98.0 0.55
98.25 0.28
98.5 0.49
98.75 0.43
99.0 0.36
99.25 0.59
99.5 1.15
}\tabCr

\pgfplotsset{
  rmsd/.style={
    scale only axis,
    anchor=south west,
    axis lines=left,
    axis line style={-, draw=axisgray, line width=0.75pt},
    tick align=inside,
    major tick length=2pt,
    tick style={draw=axisgray, line width=0.5pt},
    xmin=-4.95, xmax=103.95,
    xtick={0,20,40,60,80,100},
    tick label style={font=\fontsize{7.3}{8.5}\selectfont, text=textgray,
      /pgf/number format/assume math mode=true},
    xticklabel style={anchor=north, inner sep=0pt, yshift=-3.6pt},
    yticklabel style={anchor=east, inner sep=0pt, xshift=-1.8pt},
    label style={font=\fontsize{7.3}{8.5}\selectfont, text=textgray},
    xlabel={Time (ns)},
    ylabel={RMSD (\textit{Å})},
    xlabel style={at={(axis description cs:0.5,0)}, anchor=center, yshift=-14.5pt},
    ylabel style={at={(axis description cs:0,0.5)}, anchor=center, yshift=13pt},
    every axis plot/.append style={line width=1.4pt, line join=round, no markers},
  },
}

\begin{document}
\begin{tikzpicture}
\path[use as bounding box] (0,0) rectangle (407.5pt,799pt);

\node[anchor=base west, inner sep=0pt] at (6pt,778pt) {\letterfont\bfseries\fontsize{16}{16}\selectfont A};
\node[anchor=base west, inner sep=0pt] at (6pt,528pt) {\letterfont\bfseries\fontsize{16}{16}\selectfont B};
\node[anchor=base west, inner sep=0pt] at (6pt,249.5pt) {\letterfont\bfseries\fontsize{16}{16}\selectfont C};

\begin{axis}[rmsd, at={(39.5pt,564.5pt)}, width=358.5pt, height=227.5pt,
  ymin=0.511, ymax=5.567, ytick={1,2,3,4,5}]
\addplot[black] table[x=t, y=k] {\tabA};
\addplot[rmsdred] table[x=t, y=r] {\tabA};
\addplot[rmsdblue] table[x=t, y=b] {\tabA};
\end{axis}

\begin{axis}[rmsd, at={(39.5pt,294.85pt)}, width=358pt, height=231pt,
  ymin=0.348, ymax=4.59, ytick={0.5,1,...,4.5},
  yticklabel style={/pgf/number format/.cd, fixed, fixed zerofill, precision=1}]
\addplot[black] table[x=t, y=k] {\tabB};
\addplot[rmsdred] table[x=t, y=r] {\tabB};
\addplot[rmsdblue] table[x=t, y=b] {\tabB};
\end{axis}

\begin{axis}[rmsd, at={(38.5pt,19pt)}, width=368pt, height=234.15pt,
  ymin=-0.103, ymax=5.28, ytick={0,1,2,3,4,5}]
\addplot[black] table[x=t, y=k] {\tabC};
\addplot[rmsdred] table[x=t, y=r] {\tabCr};
\addplot[rmsdblue] table[x=t, y=b] {\tabC};
\end{axis}
\end{tikzpicture}
\end{document}
